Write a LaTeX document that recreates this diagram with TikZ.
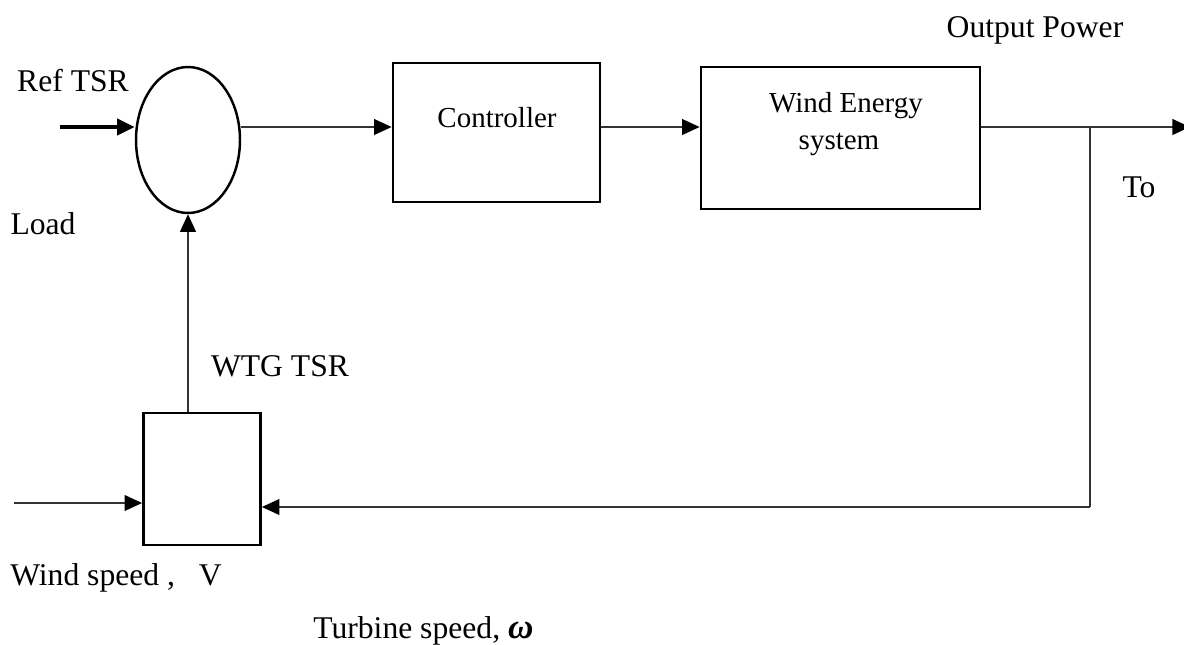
\documentclass[tikz,border=0pt]{standalone}
\usepackage{fontspec}
\setmainfont{Liberation Serif}
\usetikzlibrary{shapes.geometric,arrows.meta,calc}
\begin{document}
\begin{tikzpicture}[x=0.02cm,y=-0.02cm,
  blk/.style={draw=black,line width=1.6pt,minimum width=#1},
  thin/.style={draw=black!80,line width=0.85pt},
  tip/.style={-{Triangle[length=10pt,width=9pt,color=black]}},
  arr/.style={thin,tip},
  lbl/.style={font=\fontsize{18}{21}\selectfont,inner sep=0pt},
  blbl/.style={font=\fontsize{16.5}{20}\selectfont,inner sep=0pt,align=center}]
\useasboundingbox (0,0) rectangle (1184,645);
% blocks
\node[draw=black,line width=1.4pt,ellipse,minimum width=2.08cm,minimum height=2.92cm,inner sep=0pt] (sum) at (188,140) {};
\node[blk=4.14cm,minimum height=2.78cm] (ctrl) at (496.5,132.5) {};
\node[blk=5.58cm,minimum height=2.84cm] (wes) at (840.5,138) {};
\node[blk=2.34cm,minimum height=2.64cm] (wtg) at (202,479) {};
% block texts
\node[blbl] (tctrl) at (497,118) {Controller};
\node[blbl] (twes1) at (846,106) {Wind Energy};
\node[blbl] (twes2) at (839,144) {system};
% labels
\node[lbl] (lref) at (73,81) {Ref TSR};
\node[lbl] (lload) at (43,224) {Load};
\node[lbl] (lwtg) at (280,366) {WTG TSR};
\node[lbl,anchor=west] (lwind) at (10,578) {Wind speed ,\ \ \ V};
\node[lbl,anchor=west] (lturb) at (313,631) {Turbine speed, {\fontsize{20}{21}\selectfont\bfseries\itshape ω}};
\node[lbl] (lout) at (1035,30) {Output Power};
\node[lbl] (lto) at (1139,187) {To};
% coordinates
\coordinate (row) at (0,127);
\coordinate (refin) at (60,127);
\coordinate (out) at (1190,127);
\coordinate (tap) at (1090,127);
\coordinate (corner) at (1090,507);
\coordinate (windin) at (14,503);
% connectors
\draw[line width=2.6pt,tip] (refin) -- (refin -| sum.west);
\draw[arr] (sum.east |- row) -- (ctrl.west |- row);
\draw[arr] (ctrl.east |- row) -- (wes.west |- row);
\draw[arr] (wes.east |- row) -- (out);
\draw[thin] (tap) -- (corner);
\draw[arr] (corner) -- (wtg.east |- corner);
\draw[arr] (windin) -- (wtg.west |- windin);
\draw[arr] (sum.south |- wtg.north) -- (sum.south);
\end{tikzpicture}
\end{document}
